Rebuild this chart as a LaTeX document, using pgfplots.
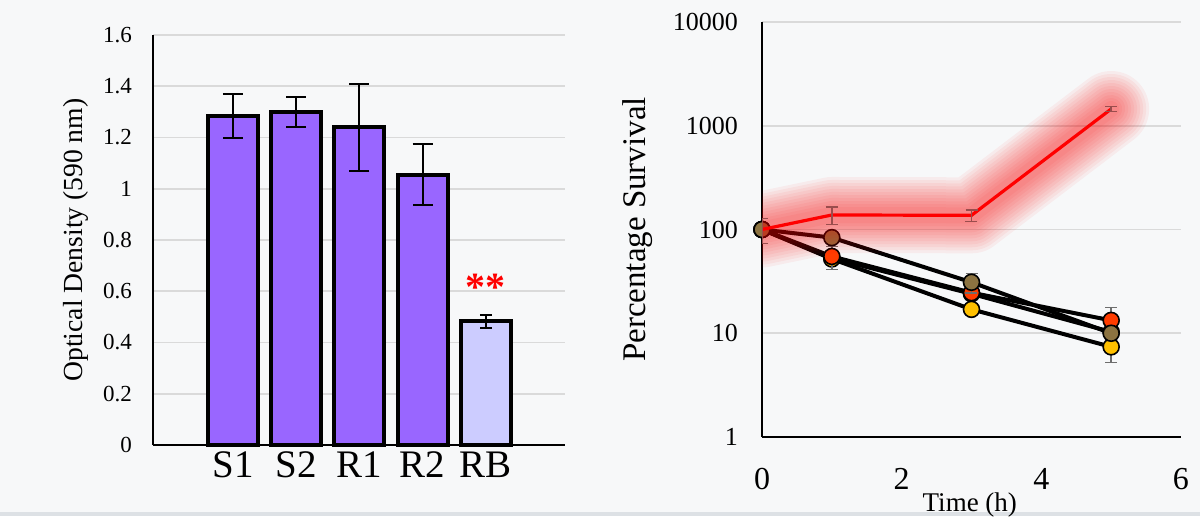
\documentclass[border=0pt]{standalone}
\usepackage{pgfplots}
\pgfplotsset{compat=1.18}
\usepackage{fontspec}
\setmainfont{Liberation Serif}
\definecolor{bg}{HTML}{F7F8F9}
\definecolor{strip}{HTML}{DDE1E5}
\definecolor{gridgray}{HTML}{DADADA}
\definecolor{barpurple}{HTML}{9966FF}
\definecolor{barlight}{HTML}{CCCCFF}
\definecolor{errgray}{HTML}{6E6E6E}
\definecolor{olivem}{HTML}{8C7341}
\definecolor{redm}{HTML}{FF3C00}
\definecolor{goldm}{HTML}{FFC000}
\definecolor{brownm}{HTML}{8B5A2B}
\pgfplotsset{
  eb/.style={error bars/.cd, y dir=both, y explicit,
    error bar style={line width=0.7pt, #1},
    error mark options={rotate=90, mark size=3pt, line width=0.7pt, #1}},
  eb/.default=errgray,
  glow/.style={red, opacity=0.05, line width=#1, line cap=round, line join=round, forget plot, mark=none},
}
\begin{document}
\begin{tikzpicture}
\useasboundingbox (0,0) rectangle (600pt,258pt);
\fill[bg] (0,0) rectangle (600pt,258pt);
\fill[strip] (0,0) rectangle (600pt,2pt);
% ---------- left bar chart ----------
\begin{axis}[
  at={(76.5pt,35.5pt)}, anchor=south west,
  scale only axis, width=206pt, height=205pt,
  xmin=-0.264, xmax=6.25, ymin=0, ymax=1.6,
  xtick={1,2,3,4,5}, xticklabels={S1,S2,R1,R2,RB},
  ytick={0,0.2,0.4,0.6,0.8,1,1.2,1.4,1.6},
  yticklabels={0,0.2,0.4,0.6,0.8,1,1.2,1.4,1.6},
  ymajorgrids, grid style={draw=gridgray, line width=0.8pt},
  axis x line*=bottom, axis y line*=left,
  axis line style={line width=0.7pt, -},
  major tick length=0pt,
  x tick label style={font=\fontsize{19.5}{21}\selectfont},
  y tick label style={font=\fontsize{11.5}{13}\selectfont},
  yticklabel shift=7pt,
  ylabel={Optical Density (590 nm)},
  ylabel style={font=\fontsize{13.8}{15}\selectfont, at={(rel axis cs:-0.187,0.5)}, anchor=center},
  clip=false,
]
\addplot[ybar, bar width=25pt, bar shift=0pt, fill=barpurple, draw=black, line width=2pt,
  error bars/.cd, y dir=both, y explicit,
  error bar style={line width=1pt, black},
  error mark options={rotate=90, mark size=5pt, line width=1pt, black}]
  coordinates {
  (1,1.285) +- (0,0.085)
  (2,1.300) +- (0,0.060)
  (3,1.240) +- (0,0.170)
  (4,1.055) +- (0,0.120)
  };
\addplot[ybar, bar width=25pt, bar shift=0pt, fill=barlight, draw=black, line width=2pt,
  error bars/.cd, y dir=both, y explicit,
  error bar style={line width=1pt, black},
  error mark options={rotate=90, mark size=3pt, line width=1pt, black}]
  coordinates {
  (5,0.482) +- (0,0.027)
  };
\node[red, font=\bfseries\fontsize{20}{22}\selectfont] at (axis cs:5,0.615) {**};
\end{axis}
% ---------- right survival chart ----------
\begin{axis}[
  at={(381pt,39.5pt)}, anchor=south west,
  scale only axis, width=209.5pt, height=207.5pt,
  xmin=0, xmax=6, ymin=1, ymax=10000, ymode=log,
  xtick={0,2,4,6}, xticklabels={0,2,4,6},
  ytick={1,10,100,1000,10000}, yticklabels={1,10,100,1000,10000},
  ymajorgrids, yminorgrids=false, grid style={draw=gridgray, line width=0.8pt},
  axis x line*=bottom, axis y line*=left,
  axis line style={line width=0.8pt, -},
  major tick length=0pt, minor tick length=0pt,
  x tick label style={font=\fontsize{16}{18}\selectfont},
  y tick label style={font=\fontsize{13}{15}\selectfont},
  xticklabel shift=12pt,
  yticklabel shift=8.5pt,
  ylabel={Percentage Survival},
  ylabel style={font=\fontsize{16.5}{18}\selectfont, at={(rel axis cs:-0.296,0.5)}, anchor=center},
  xlabel={Time (h)},
  xlabel style={font=\fontsize{13.5}{15}\selectfont, at={(rel axis cs:0.496,-0.164)}, anchor=center},
  clip mode=individual,
]
% hidden fourth series
\addplot[black, line width=2pt, mark=*, mark size=4pt, mark options={fill=brownm, draw=black, line width=0.8pt}, eb]
  coordinates {(0,100) (1,53) (3,24) (5,10.3)};
\addplot[black, line width=2pt, mark=*, mark size=4pt, mark options={fill=goldm, draw=black, line width=0.8pt}, eb]
  coordinates {(0,100) (1,52) (3,17) (5,7.4) +- (0,2.2)};
\addplot[black, line width=2pt, mark=*, mark size=4pt, mark options={fill=redm, draw=black, line width=0.8pt}, eb]
  coordinates {(0,100) (1,55) +- (0,14) (3,24.6) (5,13.3) +- (0,4.5)};
\addplot[black, line width=2pt, mark=*, mark size=4pt, mark options={fill=olivem, draw=black, line width=0.8pt}, eb]
  coordinates {(0,100) (1,83.5) (3,31) +- (0,6.5) (5,10)};
% glow of the red series
\addplot[glow=38pt] coordinates {(0,100) (1,138) (3,137) (5,1450)};
\addplot[glow=35pt] coordinates {(0,100) (1,138) (3,137) (5,1450)};
\addplot[glow=32pt] coordinates {(0,100) (1,138) (3,137) (5,1450)};
\addplot[glow=29pt] coordinates {(0,100) (1,138) (3,137) (5,1450)};
\addplot[glow=26pt] coordinates {(0,100) (1,138) (3,137) (5,1450)};
\addplot[glow=23pt] coordinates {(0,100) (1,138) (3,137) (5,1450)};
\addplot[glow=20pt] coordinates {(0,100) (1,138) (3,137) (5,1450)};
\addplot[glow=17pt] coordinates {(0,100) (1,138) (3,137) (5,1450)};
\addplot[glow=14pt] coordinates {(0,100) (1,138) (3,137) (5,1450)};
\addplot[glow=11pt] coordinates {(0,100) (1,138) (3,137) (5,1450)};
\addplot[glow=8pt] coordinates {(0,100) (1,138) (3,137) (5,1450)};
% red series
\addplot[red, line width=1.6pt, mark=none, eb=errgray!70!red]
  coordinates {(0,100) +- (0,27) (1,138) +- (0,27) (3,137) +- (0,17) (5,1450) +- (0,80)};
\end{axis}
\end{tikzpicture}
\end{document}
